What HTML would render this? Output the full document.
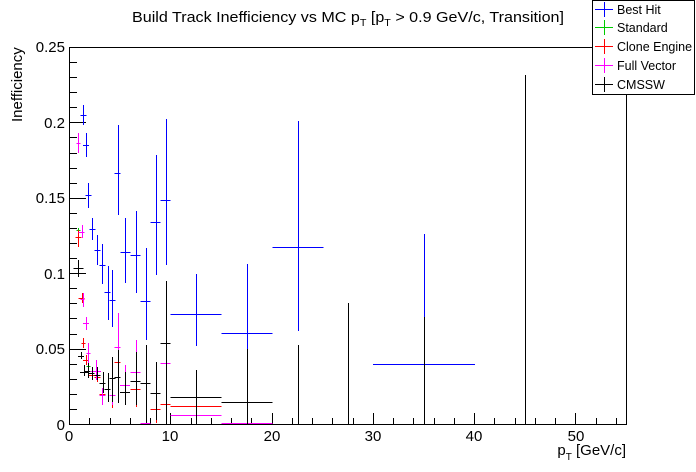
<!DOCTYPE html>
<html><head><meta charset="utf-8"><style>
html,body{margin:0;padding:0;background:#fff;}
svg{display:block;font-family:"Liberation Sans",Arial,sans-serif;}
</style></head><body>
<svg id="s" width="696" height="472" viewBox="0 0 696 472" xmlns="http://www.w3.org/2000/svg" shape-rendering="crispEdges">
<rect x="0" y="0" width="696" height="472" fill="#fff"/>
<text x="348" y="22" font-size="15" text-anchor="middle" textLength="432" lengthAdjust="spacingAndGlyphs">Build Track Inefficiency vs MC p<tspan font-size="10" dy="4">T</tspan><tspan dy="-4"> [p</tspan><tspan font-size="10" dy="4">T</tspan><tspan dy="-4"> &gt; 0.9 GeV/c, Transition]</tspan></text>
<g id="ticks" stroke="#000" stroke-width="1"></g>
<g id="data" stroke-width="1" fill="none"></g>
<rect x="69.5" y="47.5" width="557" height="377" fill="none" stroke="#000" stroke-width="1"/>
<g font-size="15" text-anchor="end">
<text x="65" y="52">0.25</text>
<text x="65" y="128">0.2</text>
<text x="65" y="203">0.15</text>
<text x="65" y="279">0.1</text>
<text x="65" y="354">0.05</text>
<text x="65" y="430">0</text>
</g>
<g font-size="15" text-anchor="middle">
<text x="69" y="441">0</text>
<text x="170" y="441">10</text>
<text x="272" y="441">20</text>
<text x="373" y="441">30</text>
<text x="474" y="441">40</text>
<text x="576" y="441">50</text>
</g>
<text x="626" y="455" font-size="15" text-anchor="end">p<tspan font-size="10" dy="5">T</tspan><tspan dy="-5"> [GeV/c]</tspan></text>
<text transform="translate(22,122) rotate(-90)" font-size="15" text-anchor="start">Inefficiency</text>
<rect x="592.5" y="0.5" width="102" height="94" fill="#fff" stroke="#000"/>
<g font-size="12.5">
<text x="617" y="14">Best Hit</text>
<text x="617" y="32">Standard</text>
<text x="617" y="51">Clone Engine</text>
<text x="617" y="70">Full Vector</text>
<text x="617" y="89">CMSSW</text>
</g>
<g stroke-width="1">
<path d="M595 9.5H613M604.5 2V17" stroke="#00f"/>
<path d="M595 27.5H613M604.5 20V35" stroke="#0c0"/>
<path d="M595 46.5H613M604.5 39V54" stroke="#f00"/>
<path d="M595 65.5H613M604.5 58V73" stroke="#f0f"/>
<path d="M595 84.5H613M604.5 77V92" stroke="#000"/>
</g>
</svg>
<script>
var NS="http://www.w3.org/2000/svg";
function ln(g,x1,y1,x2,y2,c){var l=document.createElementNS(NS,"line");l.setAttribute("x1",x1);l.setAttribute("y1",y1);l.setAttribute("x2",x2);l.setAttribute("y2",y2);if(c)l.setAttribute("stroke",c);g.appendChild(l);}
var T=document.getElementById("ticks");
for(var i=0;i<=54;i+=2){var x=Math.round(69+i*101.27)+0.5;x=Math.round(69+i*10.127)+0.5;var L=(i%10==0)?11:6;ln(T,x,424,x,424-L);}
for(var j=0;j<=25;j++){var y=Math.round(424-j*15.08)+0.5;var L=(j%5==0)?17:8;ln(T,69,y,69+L,y);}
var D=document.getElementById("data");
function ser(c,arr){arr.forEach(function(p){var xc=Math.round(p[0])+0.5,y=Math.round(p[2])+0.5;ln(D,p[0]-p[1],y,p[0]+p[1],y,c);if(p[3]!=p[4])ln(D,xc,p[3],xc,p[4],c);});}
ser("#00f",[[83.3,3,115,105,125],[86,3,145,133,157],[88.3,3,195,183,208],[92.3,3,229,218,240],[97.3,3,250,235,265],[102.3,3,265,244,284],[107.7,3,292,266,320],[112.3,3,300,270,327],[117.7,3,173,125,215],[125.3,5,252,218,283],[135.7,5,255,211,293],[145.7,5,301,248,340],[155.7,5,222,155,275],[165.7,5,200,119,265],[196,25.5,314,274,346],[247,25.5,333,264,349],[298,25.5,247,121,331],[424,51,364,234,424]]);
ser("#0c0",[[78.3,2,230,228,232],[88.3,2,366,364,368]]);
ser("#f00",[[78.3,3,236.7,230,247],[81.7,3,298,293,303],[83.3,2,343,338,348],[86,3,360,355,365],[91.7,3,375,370,380],[97.3,3,376.7,373,382],[102.3,3,394,392,397],[112.3,3,395,392,408],[117.7,3,361.7,350,373],[135.7,5,389,380,407],[155.7,5,409,400,423],[165.7,5,404,382,422],[196,25.5,406,406,406]]);
ser("#f0f",[[78.3,2,143.3,133,153],[81.7,3,231.7,225,238],[82.7,2,299,293,307],[86,3,323,317,330],[88.3,2,353,343,363],[96,5,370.7,360,380],[102.3,3,395,388,405],[112.3,3,395,383,405],[117.7,3,346.7,313,373],[125,5,385,365,405],[135.7,5,371.7,340,405],[145.7,5,423,400,424],[165.7,5,363,363,363],[196,25.5,415,405,424],[247,25.5,423,423,423]]);
ser("#000",[[78.3,5,267.7,260,277],[81,3,355.7,352,359],[84,4,371.7,365,376],[87.7,3,371,363,378],[91.7,3,373,367,380],[97.3,3,375,367,380],[102.7,3,382.7,372,393],[107.7,3,389,373,402],[112.3,3,378,357,402],[117.7,3,377,350,403],[125,5,391.7,372,405],[135.7,5,380.7,352,405],[145.7,5,383,345,423],[155.7,5,393,362,420],[165.7,5,343,281,424],[196,25.5,397,370,424],[247,25.5,402,349,424]]);
[[298,345],[348.3,303],[424,317],[525,75]].forEach(function(v){var x=Math.round(v[0])+0.5;ln(D,x,v[1],x,424,"#000");});
</script>
</body></html>
